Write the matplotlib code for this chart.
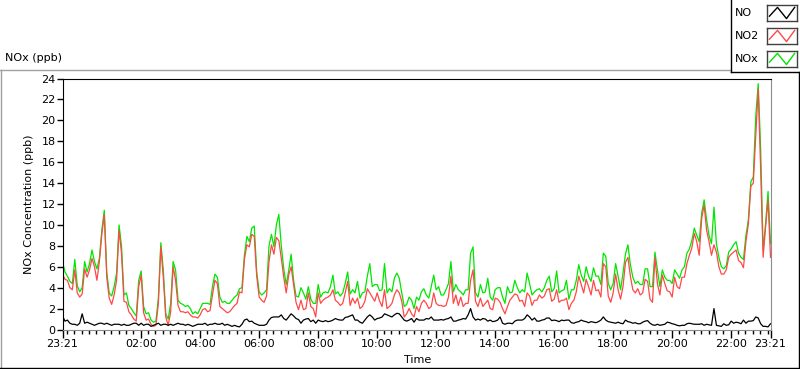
import numpy as np
import matplotlib.pyplot as plt
from matplotlib.lines import Line2D
from matplotlib.ticker import FixedLocator

# 5-minute readings starting 23:21 (ppb)
nox = [6.5, 5.5, 5.1, 4.6, 4.4, 6.7, 4.2, 3.6, 4.0, 6.5, 5.5, 6.3, 7.6, 6.5, 5.8, 6.8,
       9.5, 11.4, 5.5, 3.5, 3.2, 4.1, 5.4, 10.0, 8.0, 3.3, 3.5, 2.3, 2.0, 1.6, 1.3, 4.7,
       5.6, 2.2, 1.5, 1.6, 0.9, 0.7, 0.8, 3.0, 8.3, 5.7, 1.5, 1.0, 2.5, 6.5, 5.7, 2.8,
       2.5, 2.4, 2.2, 2.3, 2.0, 1.5, 1.7, 1.5, 2.0, 2.5, 2.5, 2.5, 2.4, 4.1, 5.3, 5.0,
       3.1, 2.6, 2.7, 2.5, 2.5, 2.8, 3.1, 3.3, 3.9, 4.0, 7.1, 8.9, 8.4, 9.7, 9.9, 5.5,
       3.6, 3.3, 3.5, 3.8, 8.0, 9.1, 7.9, 10.0, 11.0, 8.0, 5.8, 4.3, 5.6, 7.2, 4.7, 3.2,
       3.1, 4.0, 3.5, 2.9, 4.1, 2.9, 2.5, 2.5, 4.3, 3.1, 3.5, 3.6, 3.5, 4.1, 5.2, 3.4,
       3.6, 3.2, 3.5, 4.4, 5.5, 3.4, 3.8, 3.5, 4.6, 3.0, 3.5, 3.6, 5.1, 6.3, 4.1, 4.3,
       4.3, 3.7, 3.8, 6.3, 3.5, 3.9, 3.6, 4.9, 5.4, 4.9, 3.5, 2.2, 2.4, 3.1, 2.8, 2.0,
       3.1, 2.8, 3.6, 3.9, 3.3, 3.0, 4.1, 5.2, 3.8, 4.1, 3.3, 3.3, 3.8, 4.4, 6.5, 3.6,
       4.3, 3.8, 3.6, 3.3, 3.8, 3.8, 7.3, 7.9, 3.5, 3.1, 4.3, 3.5, 3.6, 4.9, 3.1, 2.8,
       3.8, 4.0, 4.0, 3.1, 2.5, 4.1, 3.5, 3.6, 4.7, 4.0, 3.5, 3.8, 3.6, 5.4, 4.4, 3.3,
       3.6, 3.8, 3.9, 3.6, 4.0, 4.7, 5.1, 3.6, 3.9, 5.6, 3.5, 3.7, 3.8, 4.7, 2.9, 3.8,
       3.8, 4.7, 6.2, 5.2, 4.6, 6.0, 5.1, 4.6, 5.9, 5.1, 5.1, 4.3, 7.3, 7.0, 4.4, 3.8,
       4.4, 6.3, 5.1, 3.8, 5.4, 7.2, 8.1, 6.2, 5.0, 4.4, 4.6, 4.3, 4.3, 5.8, 5.8, 4.1,
       4.1, 7.4, 5.7, 4.1, 5.7, 5.0, 4.7, 4.7, 4.4, 5.7, 5.3, 4.9, 5.7, 6.0, 7.3, 7.7,
       8.5, 9.7, 9.0, 8.4, 11.1, 12.4, 10.5, 9.0, 8.2, 11.7, 8.2, 6.9, 6.0, 5.8, 6.1, 7.4,
       7.7, 8.1, 8.4, 7.3, 6.9, 6.7, 9.0, 10.5, 14.1, 14.6, 20.4, 23.5, 17.2, 7.6, 10.1, 13.2,
       8.2]

no2 = [5.3, 4.8, 4.7, 4.0, 3.8, 5.7, 3.5, 3.1, 3.4, 5.8, 5.0, 5.7, 6.8, 6.0, 4.7, 6.5,
       9.1, 11.0, 5.0, 3.0, 2.4, 3.3, 4.7, 9.5, 7.3, 2.7, 2.6, 1.7, 1.4, 1.0, 0.8, 4.1,
       5.2, 1.6, 0.9, 1.0, 0.5, 0.3, 0.4, 2.5, 7.9, 5.0, 1.2, 0.4, 1.7, 6.0, 4.7, 2.3,
       1.7, 1.7, 1.6, 1.7, 1.4, 1.2, 1.2, 1.1, 1.4, 1.9, 2.0, 1.7, 1.8, 3.3, 4.7, 4.4,
       2.2, 2.0, 1.8, 1.6, 1.7, 2.0, 2.3, 2.5, 3.6, 3.5, 6.7, 8.1, 7.9, 9.1, 8.9, 5.1,
       3.1, 2.8, 2.6, 3.2, 6.5, 8.1, 7.2, 8.8, 8.5, 6.8, 5.0, 3.5, 5.2, 6.0, 4.3, 2.6,
       1.9, 2.8, 1.9, 2.0, 3.5, 2.2, 2.0, 1.2, 3.5, 2.5, 2.8, 3.0, 3.1, 3.3, 3.8, 2.8,
       2.6, 2.3, 2.5, 3.5, 4.6, 2.3, 3.0, 2.5, 3.0, 2.0, 2.2, 2.7, 3.9, 3.5, 3.1, 2.7,
       3.5, 2.7, 2.2, 3.8, 2.0, 2.2, 2.5, 3.3, 3.8, 3.5, 2.7, 1.2, 1.5, 2.0, 1.5, 1.2,
       2.2, 1.7, 2.5, 2.8, 2.5, 2.0, 2.2, 3.5, 2.5, 2.3, 2.3, 2.2, 2.3, 3.1, 5.1, 2.5,
       3.3, 2.3, 3.1, 2.2, 2.5, 2.5, 4.7, 5.7, 2.7, 2.2, 3.0, 2.2, 2.5, 2.8, 2.0, 1.9,
       3.0, 2.9, 2.6, 2.0, 1.5, 2.2, 2.8, 3.1, 3.4, 3.3, 2.7, 2.8, 2.2, 3.5, 3.2, 2.3,
       2.8, 2.8, 3.3, 3.0, 3.2, 3.8, 3.9, 2.7, 2.9, 3.8, 2.6, 2.8, 2.8, 3.0, 1.9, 2.5,
       2.8, 3.6, 5.1, 4.3, 3.5, 4.8, 4.1, 3.3, 4.7, 3.7, 3.8, 3.1, 6.3, 6.0, 3.2, 2.6,
       3.5, 5.3, 3.8, 2.9, 4.1, 6.4, 6.9, 5.1, 3.8, 3.5, 3.9, 3.3, 3.5, 4.8, 4.6, 2.9,
       2.6, 6.9, 4.4, 3.3, 5.2, 4.4, 3.7, 3.6, 3.1, 5.0, 4.1, 3.9, 5.0, 5.0, 6.3, 7.1,
       7.8, 9.2, 8.4, 7.1, 10.6, 11.9, 9.5, 8.4, 7.1, 8.1, 7.4, 6.0, 5.3, 5.3, 5.7, 6.9,
       7.2, 7.4, 7.6, 6.6, 6.4, 5.9, 8.4, 10.1, 13.7, 14.0, 18.5, 23.0, 15.3, 6.9, 9.8, 12.4,
       6.9]

no = [1.3, 0.8, 0.9, 0.6, 0.5, 0.5, 0.4, 0.6, 1.5, 0.6, 0.7, 0.6, 0.5, 0.4, 0.5, 0.6,
      0.6, 0.5, 0.6, 0.5, 0.4, 0.5, 0.5, 0.5, 0.4, 0.5, 0.4, 0.4, 0.5, 0.6, 0.6, 0.4,
      0.6, 0.4, 0.5, 0.5, 0.3, 0.4, 0.5, 0.6, 0.4, 0.5, 0.5, 0.4, 0.5, 0.4, 0.5, 0.6,
      0.5, 0.5, 0.4, 0.5, 0.4, 0.3, 0.4, 0.5, 0.5, 0.5, 0.6, 0.4, 0.5, 0.5, 0.6, 0.5,
      0.5, 0.6, 0.4, 0.5, 0.4, 0.3, 0.4, 0.3, 0.25, 0.5, 0.9, 1.0, 0.75, 0.8, 0.6, 0.5,
      0.4, 0.4, 0.4, 0.5, 0.9, 1.15, 1.2, 1.2, 1.2, 1.4, 1.05, 0.9, 1.2, 1.5, 1.3, 1.05,
      0.95, 0.6, 0.9, 1.0, 1.05, 0.75, 0.9, 0.6, 0.9, 0.8, 0.75, 0.85, 0.75, 0.8, 0.9, 1.05,
      0.95, 0.9, 0.9, 1.15, 1.2, 1.3, 1.4, 0.9, 0.9, 0.7, 0.6, 0.9, 1.2, 1.4, 1.2, 0.9,
      1.05, 1.1, 1.2, 1.5, 1.4, 1.3, 1.2, 1.4, 1.55, 1.5, 1.2, 0.9, 0.8, 0.9, 1.05, 0.7,
      1.05, 0.9, 0.9, 0.9, 1.05, 1.0, 1.2, 0.9, 0.9, 0.9, 0.95, 0.9, 1.0, 1.05, 1.2, 0.8,
      0.8, 0.9, 0.95, 1.05, 1.0, 1.4, 2.0, 1.2, 0.9, 1.0, 0.9, 1.05, 1.0, 0.8, 0.9, 0.75,
      0.8, 0.9, 1.2, 0.6, 0.5, 0.6, 0.6, 0.55, 0.8, 0.9, 0.9, 0.9, 1.05, 1.4, 1.2, 0.9,
      1.1, 0.8, 0.8, 0.9, 0.95, 1.1, 1.1, 0.85, 0.9, 0.85, 0.75, 0.9, 0.85, 0.9, 0.9, 0.65,
      0.6, 0.7, 0.75, 0.9, 0.8, 0.75, 0.65, 0.75, 0.7, 0.65, 0.75, 0.9, 1.2, 0.9, 0.75, 0.7,
      0.65, 0.6, 0.7, 0.6, 0.55, 0.9, 0.75, 0.7, 0.6, 0.65, 0.55, 0.55, 0.7, 0.8, 0.85, 0.6,
      0.45, 0.4, 0.5, 0.4, 0.45, 0.5, 0.7, 0.65, 0.55, 0.5, 0.4, 0.35, 0.4, 0.4, 0.55, 0.6,
      0.55, 0.5, 0.5, 0.5, 0.55, 0.4, 0.5, 0.45, 0.4, 2.0, 0.4, 0.35, 0.3, 0.55, 0.4, 0.45,
      0.8, 0.6, 0.7, 0.65, 0.55, 0.9, 0.6, 0.8, 0.8, 0.85, 1.2, 1.1, 0.55, 0.3, 0.3, 0.25,
      0.55]

step_min = 5
minutes = np.arange(len(nox)) * step_min

xtick_pos = [0, 159, 279, 399, 519, 639, 759, 879, 999, 1119, 1239, 1359, 1440]
xtick_lab = ['23:21', '02:00', '04:00', '06:00', '08:00', '10:00', '12:00',
             '14:00', '16:00', '18:00', '20:00', '22:00', '23:21']

series = ['NO', 'NO2', 'NOx']
colors = {'NO': 'black', 'NO2': '#ff4848', 'NOx': '#00e600'}

W, H = 800, 369
plt.rcParams['font.family'] = ['DejaVu Sans']
fig = plt.figure(figsize=(W / 100, H / 100), dpi=100)


def px_box(l, t, r, b):
    return [l / W, 1 - b / H, (r - l) / W, (b - t) / H]


ax = fig.add_axes(px_box(62.5, 78.5, 770.5, 329.5))
ax.plot(minutes, nox, color=colors['NOx'], lw=0.9)
ax.plot(minutes, no2, color=colors['NO2'], lw=0.9)
ax.plot(minutes, no, color=colors['NO'], lw=0.9)

ax.set_xlim(0, 1440)
ax.set_ylim(0, 24)
ax.set_yticks(np.arange(0, 25, 2))
ax.set_xticks(xtick_pos)
ax.set_xticklabels(xtick_lab)
ax.xaxis.set_minor_locator(FixedLocator(np.arange(9, 1440, 15)))
ax.tick_params(axis='y', labelsize=8, length=4, width=1, pad=1)
ax.tick_params(axis='x', which='major', labelsize=8, length=6, width=1, pad=1)
ax.tick_params(axis='x', which='minor', length=3, width=1)

for side in ['left', 'top']:
    ax.spines[side].set_color('black')
for side in ['right', 'bottom']:
    ax.spines[side].set_color('#8c8c8c')

ax.set_ylabel('NOx Concentration (ppb)', fontsize=8)
ax.yaxis.set_label_coords(-0.04, 0.5)

fig.text(418 / W, 1 - 360 / H, 'Time', fontsize=8, ha='center', va='center')
fig.text(5 / W, 1 - 58 / H, 'NOx (ppb)', fontsize=8, ha='left', va='center')


def fig_line(xs, ys, color):
    fig.add_artist(Line2D([x / W for x in xs], [1 - y / H for y in ys],
                          color=color, lw=1, transform=fig.transFigure))


# panel frame
fig_line([0, 731], [69.5, 69.5], '#a0a0a0')
fig_line([1, 1], [69.5, 368], '#a0a0a0')
fig_line([0, 800], [367.5, 367.5], 'black')
fig_line([798.5, 798.5], [72, 368], 'black')
# legend frame
fig_line([731, 731], [0, 72], 'black')
fig_line([731, 800], [71.5, 71.5], 'black')

# legend entries
for k, name in enumerate(series):
    yc = 13 + 23 * k
    fig.text(735 / W, 1 - yc / H, name, fontsize=8, ha='left', va='center')
    sw = fig.add_axes(px_box(767, yc - 8, 797, yc + 8))
    sw.plot([0.08, 0.35, 0.65, 0.92], [0.3, 0.85, 0.15, 0.85],
            color=colors[name], lw=1)
    sw.set_xlim(0, 1)
    sw.set_ylim(0, 1)
    sw.set_xticks([])
    sw.set_yticks([])
    for s in sw.spines.values():
        s.set_color('#404040')
        s.set_linewidth(1)

fig.savefig('out.png', dpi=100)
